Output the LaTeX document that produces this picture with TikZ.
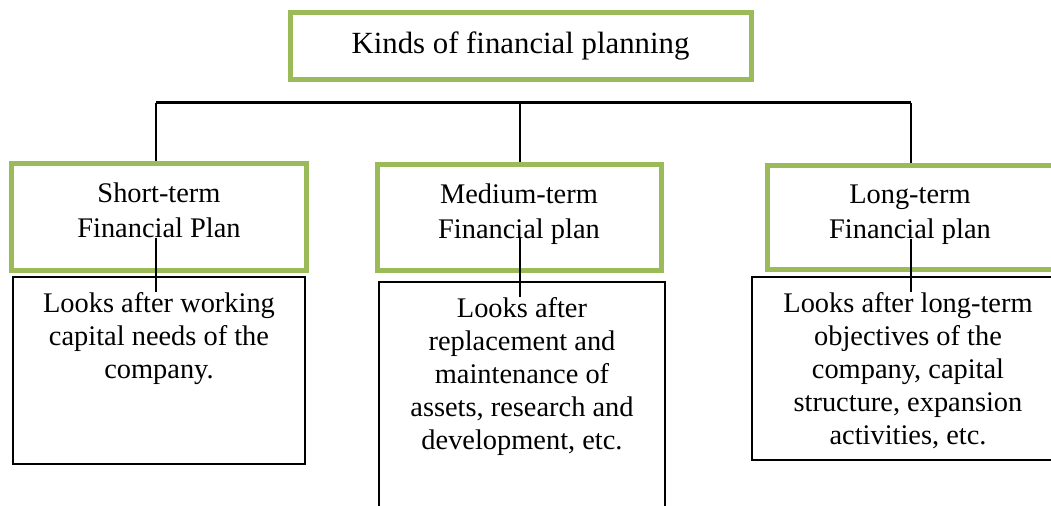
\documentclass[tikz,border=0pt]{standalone}
\usepackage{fontspec}
\setmainfont{Liberation Serif}
\usetikzlibrary{positioning,calc}
\definecolor{plangreen}{RGB}{155,187,89}
\tikzset{
  titlebox/.style={draw=plangreen,line width=2.5pt,font=\fontsize{15.4}{18}\selectfont},
  planbox/.style={draw=plangreen,line width=2.5pt,align=center,
    font=\fontsize{14.2}{17.5}\selectfont,text depth=6pt},
  notebox/.style={draw,line width=0.75pt},
  notetext/.style={align=center,inner sep=0pt,font=\fontsize{14.2}{16.5}\selectfont},
  link/.style={line width=0.75pt},
  bar/.style={line width=1.75pt}
}

\begin{document}
\begin{tikzpicture}[x=0.5pt,y=-0.5pt]
      \useasboundingbox (0,0) rectangle (1051,505);
      \node[titlebox,minimum width=230.5pt,minimum height=33.5pt] (kinds) at (520.5,45.5) {Kinds of financial planning};
      % the three kinds
      \node[planbox,minimum width=147.5pt,minimum height=53.5pt] (shortplan) at (159,216.5) {Short-term\\Financial Plan};
      \node[planbox,minimum width=142pt,minimum height=53pt] (medplan) at (519,217) {Medium-term\\Financial plan};
      \node[planbox,minimum width=143pt,minimum height=52pt] (longplan) at (910,217.5) {Long-term\\Financial plan};
      % what each one looks after
      \node[notebox,minimum width=146pt,minimum height=93.5pt] (shortbox) at (159,370.5) {};
      \node[notetext,below=8pt of shortbox.north] (shorttext) {Looks after working\\capital needs of the\\company.};
      \node[notebox,minimum width=143pt,minimum height=120pt] (medbox) at (522,402) {};
      \node[notetext,below=8pt of medbox.north] (medtext) {Looks after\\replacement and\\maintenance of\\assets, research and\\development, etc.};
      \node[notebox,minimum width=156pt,minimum height=91.5pt] (longbox) at (908,368.5) {};
      \node[notetext,below=8pt of longbox.north] (longtext) {Looks after long-term\\objectives of the\\company, capital\\structure, expansion\\activities, etc.};
      % branches
      \coordinate (colS) at (156,102.5);
      \coordinate (colM) at (520,102.5);
      \coordinate (colL) at (911,102.5);
      \draw[bar] (colS) -- (colL);
      \draw[link] (colS) -- (colS |- shortplan.north);
      \draw[link] (colM) -- (colM |- medplan.north);
      \draw[link] (colL) -- (colL |- longplan.north);
      \draw[link] ($(colS |- shortplan.center)+(0,-10.5pt)$) -- (colS |- shorttext.north);
      \draw[link] ($(colM |- medplan.center)+(0,-10.5pt)$) -- (colM |- medtext.north);
      \draw[link] ($(colL |- longplan.center)+(0,-10.5pt)$) -- (colL |- longtext.north);
\end{tikzpicture}
\end{document}
